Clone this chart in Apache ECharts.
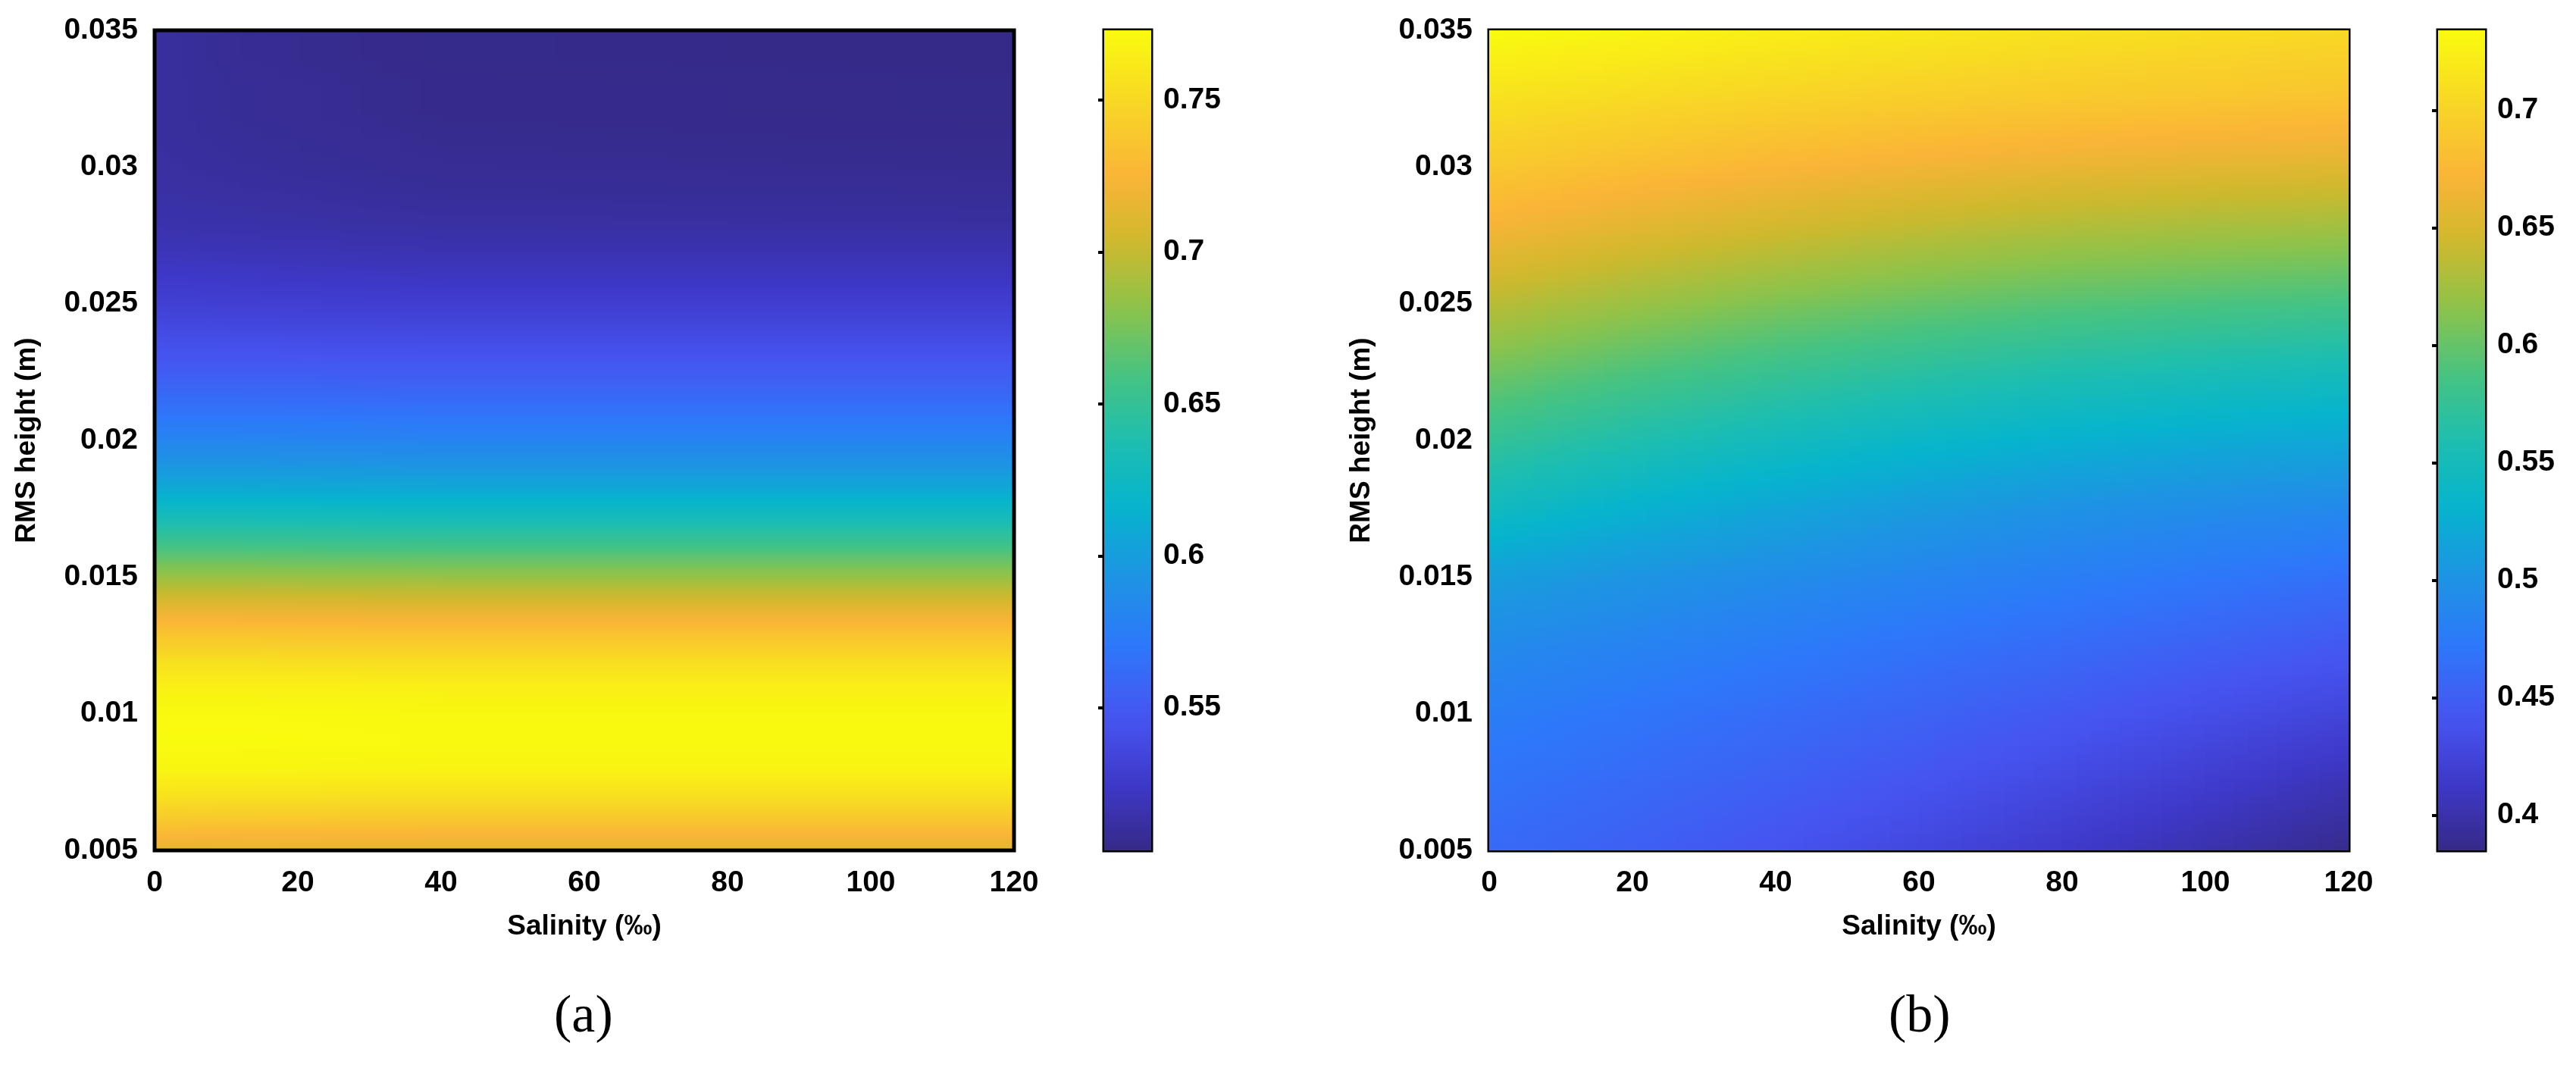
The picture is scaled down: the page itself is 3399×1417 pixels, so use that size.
<!DOCTYPE html>
<html><head><meta charset="utf-8">
<script src="https://cdn.jsdelivr.net/npm/echarts@6/dist/echarts.min.js"></script>
<style>html,body{margin:0;padding:0;background:#fff}#c{width:3399px;height:1417px}</style>
</head><body><div id="c"></div>
<script>
// ---------- DATA ----------
const A_X = [0, 12, 40, 120];
const A_Y = [0.005,0.006,0.007,0.008,0.009,0.010,0.011,0.012,0.013,0.014,0.015,0.016,0.017,0.018,0.019,0.020,0.021,0.022,0.023,0.024,0.025,0.026,0.027,0.028,0.029,0.030,0.031,0.032,0.033,0.034,0.035];
const A_COL0   = [0.714,0.737,0.757,0.769,0.773,0.772,0.766,0.753,0.734,0.711,0.686,0.661,0.636,0.613,0.596,0.581,0.568,0.557,0.547,0.539,0.531,0.525,0.519,0.515,0.513,0.512,0.511,0.511,0.511,0.511,0.511];
const A_COL12  = [0.713,0.736,0.756,0.769,0.773,0.772,0.766,0.753,0.734,0.711,0.686,0.661,0.636,0.613,0.596,0.581,0.568,0.557,0.547,0.538,0.530,0.524,0.518,0.514,0.512,0.510,0.509,0.508,0.508,0.507,0.507];
const A_COL40  = [0.712,0.735,0.755,0.768,0.772,0.771,0.765,0.752,0.733,0.710,0.685,0.660,0.635,0.612,0.595,0.580,0.567,0.556,0.546,0.537,0.529,0.522,0.516,0.512,0.509,0.507,0.506,0.505,0.505,0.504,0.504];
const A_COL120 = [0.712,0.735,0.755,0.768,0.772,0.771,0.765,0.752,0.733,0.710,0.685,0.660,0.635,0.612,0.595,0.580,0.567,0.556,0.546,0.537,0.529,0.522,0.516,0.511,0.508,0.506,0.505,0.504,0.504,0.503,0.503];
const A_RANGE = [0.503, 0.773];
const A_TICKS = [0.55, 0.6, 0.65, 0.7, 0.75];

const B_X = [0, 20, 40, 60, 80, 100, 120];
const B_Y = [0.005,0.0075,0.010,0.0125,0.015,0.0175,0.020,0.0225,0.025,0.0275,0.030,0.0325,0.035];
const B_ROWS = [
  [0.460,0.451,0.440,0.428,0.415,0.401,0.388],
  [0.468,0.460,0.451,0.441,0.430,0.418,0.405],
  [0.478,0.470,0.462,0.454,0.445,0.435,0.425],
  [0.492,0.484,0.476,0.468,0.461,0.453,0.445],
  [0.512,0.502,0.494,0.486,0.479,0.472,0.465],
  [0.545,0.530,0.518,0.508,0.500,0.494,0.490],
  [0.575,0.560,0.547,0.537,0.529,0.523,0.520],
  [0.605,0.590,0.578,0.568,0.560,0.554,0.550],
  [0.635,0.622,0.610,0.601,0.594,0.589,0.585],
  [0.665,0.653,0.643,0.634,0.627,0.623,0.620],
  [0.690,0.681,0.673,0.666,0.661,0.657,0.655],
  [0.712,0.706,0.700,0.695,0.691,0.688,0.685],
  [0.734,0.729,0.723,0.718,0.713,0.709,0.705]
];
const B_RANGE = [0.385, 0.734];
const B_TICKS = [0.4, 0.45, 0.5, 0.55, 0.6, 0.65, 0.7];

const X_TICKS = [0, 20, 40, 60, 80, 100, 120];
const Y_TICKS = [0.005, 0.01, 0.015, 0.02, 0.025, 0.03, 0.035];

// ---------- colormap (parula-like) ----------
const PARULA = [
  [0.00,[53,42,135]],[0.08,[62,56,200]],[0.16,[70,84,240]],[0.25,[45,120,250]],
  [0.34,[28,150,225]],[0.42,[6,180,205]],[0.50,[30,190,175]],[0.58,[70,195,130]],
  [0.66,[140,195,75]],[0.74,[205,185,45]],[0.82,[250,180,55]],[0.90,[248,210,40]],[1.00,[249,251,14]]
];
function cmap(t){
  t = Math.max(0, Math.min(1, t));
  for (let i=1;i<PARULA.length;i++){
    if (t <= PARULA[i][0]){
      const [t0,c0]=PARULA[i-1],[t1,c1]=PARULA[i];
      const f=(t-t0)/(t1-t0);
      return 'rgb('+c0.map((v,k)=>Math.round(v+(c1[k]-v)*f)).join(',')+')';
    }
  }
  return 'rgb(249,251,14)';
}

// grid value lookup: V[row][col]
const A_V = A_Y.map((_,r)=>[A_COL0[r],A_COL12[r],A_COL40[r],A_COL120[r]]);
const B_V = B_ROWS;

function makeField(xs, ys, V, range){
  const data=[];
  for(let r=0;r<ys.length-1;r++) for(let c=0;c<xs.length-1;c++) data.push([c,r]);
  const S=10, ST=5;
  return {
    type:'custom', data:data, clip:true, silent:true,
    renderItem:function(params, api){
      const c=api.value(0), r=api.value(1);
      const v00=V[r][c], v01=V[r][c+1], v10=V[r+1][c], v11=V[r+1][c+1];
      const children=[];
      for(let s=0;s<S;s++){
        const fx0=s/S, fx1=(s+1)/S, fm=(s+0.5)/S;
        const xa=xs[c]+(xs[c+1]-xs[c])*fx0, xb=xs[c]+(xs[c+1]-xs[c])*fx1;
        const p0=api.coord([xa, ys[r+1]]), p1=api.coord([xb, ys[r]]);
        const vb=v00+(v01-v00)*fm, vt=v10+(v11-v10)*fm;
        const stops=[];
        for(let k=0;k<=ST;k++){
          const f=k/ST; const v=vt+(vb-vt)*f;
          stops.push({offset:f,color:cmap((v-range[0])/(range[1]-range[0]))});
        }
        children.push({type:'rect',shape:{x:p0[0]-0.5,y:p0[1]-0.5,width:p1[0]-p0[0]+1.5,height:p1[1]-p0[1]+1},
          style:{fill:new echarts.graphic.LinearGradient(0,0,0,1,stops)}});
      }
      return {type:'group',children:children};
    }
  };
}
function makeBar(range){
  const stops=[];
  for(let k=0;k<=40;k++) stops.push({offset:k/40,color:cmap(1-k/40)});
  return {type:'custom',data:[[0]],silent:true,clip:false,
    renderItem:function(p,api){
      const a=api.coord([0,range[1]]), b=api.coord([1,range[0]]);
      return {type:'rect',shape:{x:a[0],y:a[1],width:b[0]-a[0],height:b[1]-a[1]},
        style:{fill:new echarts.graphic.LinearGradient(0,0,0,1,stops)}};
    }};
}

const FONT='Liberation Sans';
const lab={color:'#000',fontFamily:FONT,fontWeight:'bold',fontSize:39};
const fmt=v=>String(+(+v).toFixed(4));
function mainX(i){return {gridIndex:i,type:'value',min:0,max:120,interval:20,
  name:'Salinity (‰)',nameLocation:'middle',nameGap:82,nameTextStyle:Object.assign({},lab,{fontSize:37}),
  axisLine:{show:false},axisTick:{show:false},splitLine:{show:false},
  axisLabel:Object.assign({},lab,{margin:24,formatter:fmt})};}
function mainY(i){return {gridIndex:i,type:'value',min:0.005,max:0.035,interval:0.005,
  name:'RMS height (m)',nameLocation:'middle',nameGap:150,nameTextStyle:Object.assign({},lab,{fontSize:37}),
  axisLine:{show:false},axisTick:{show:false},splitLine:{show:false},
  axisLabel:Object.assign({},lab,{margin:22,formatter:fmt})};}
function barY(i,range,ticks){return {gridIndex:i,type:'value',min:range[0],max:range[1],position:'right',
  interval:0.05, axisLine:{show:false},splitLine:{show:false},
  axisTick:{show:true,inside:true,length:8,lineStyle:{color:'#000',width:4},customValues:ticks},
  axisLabel:Object.assign({},lab,{margin:16,formatter:fmt,customValues:ticks})};}
function barX(i){return {gridIndex:i,type:'value',min:0,max:1,show:false};}

const border={show:true,borderColor:'#000',borderWidth:5,backgroundColor:'transparent'};
const option={
  animation:false,
  grid:[
    Object.assign({left:204,top:40,width:1134,height:1082,z:10},border),
    Object.assign({left:1457,top:40,width:62,height:1082},border),
    Object.assign({left:1965,top:40,width:1134,height:1082},border),
    Object.assign({left:3217,top:40,width:62,height:1082},border)
  ],
  xAxis:[mainX(0),barX(1),mainX(2),barX(3)],
  yAxis:[mainY(0),barY(1,A_RANGE,A_TICKS),mainY(2),barY(3,B_RANGE,B_TICKS)],
  series:[
    Object.assign(makeField(A_X,A_Y,A_V,A_RANGE),{xAxisIndex:0,yAxisIndex:0}),
    Object.assign(makeBar(A_RANGE),{xAxisIndex:1,yAxisIndex:1}),
    Object.assign(makeField(B_X,B_Y,B_V,B_RANGE),{xAxisIndex:2,yAxisIndex:2}),
    Object.assign(makeBar(B_RANGE),{xAxisIndex:3,yAxisIndex:3})
  ],
  graphic:[
    {type:'text',left:771-40,top:1308,style:{text:'(a)',font:'70px "Liberation Serif"',fill:'#000'}},
    {type:'text',left:2532-40,top:1308,style:{text:'(b)',font:'70px "Liberation Serif"',fill:'#000'}}
  ]
};
const ch=echarts.init(document.getElementById('c'));
ch.setOption(option);
</script></body></html>
